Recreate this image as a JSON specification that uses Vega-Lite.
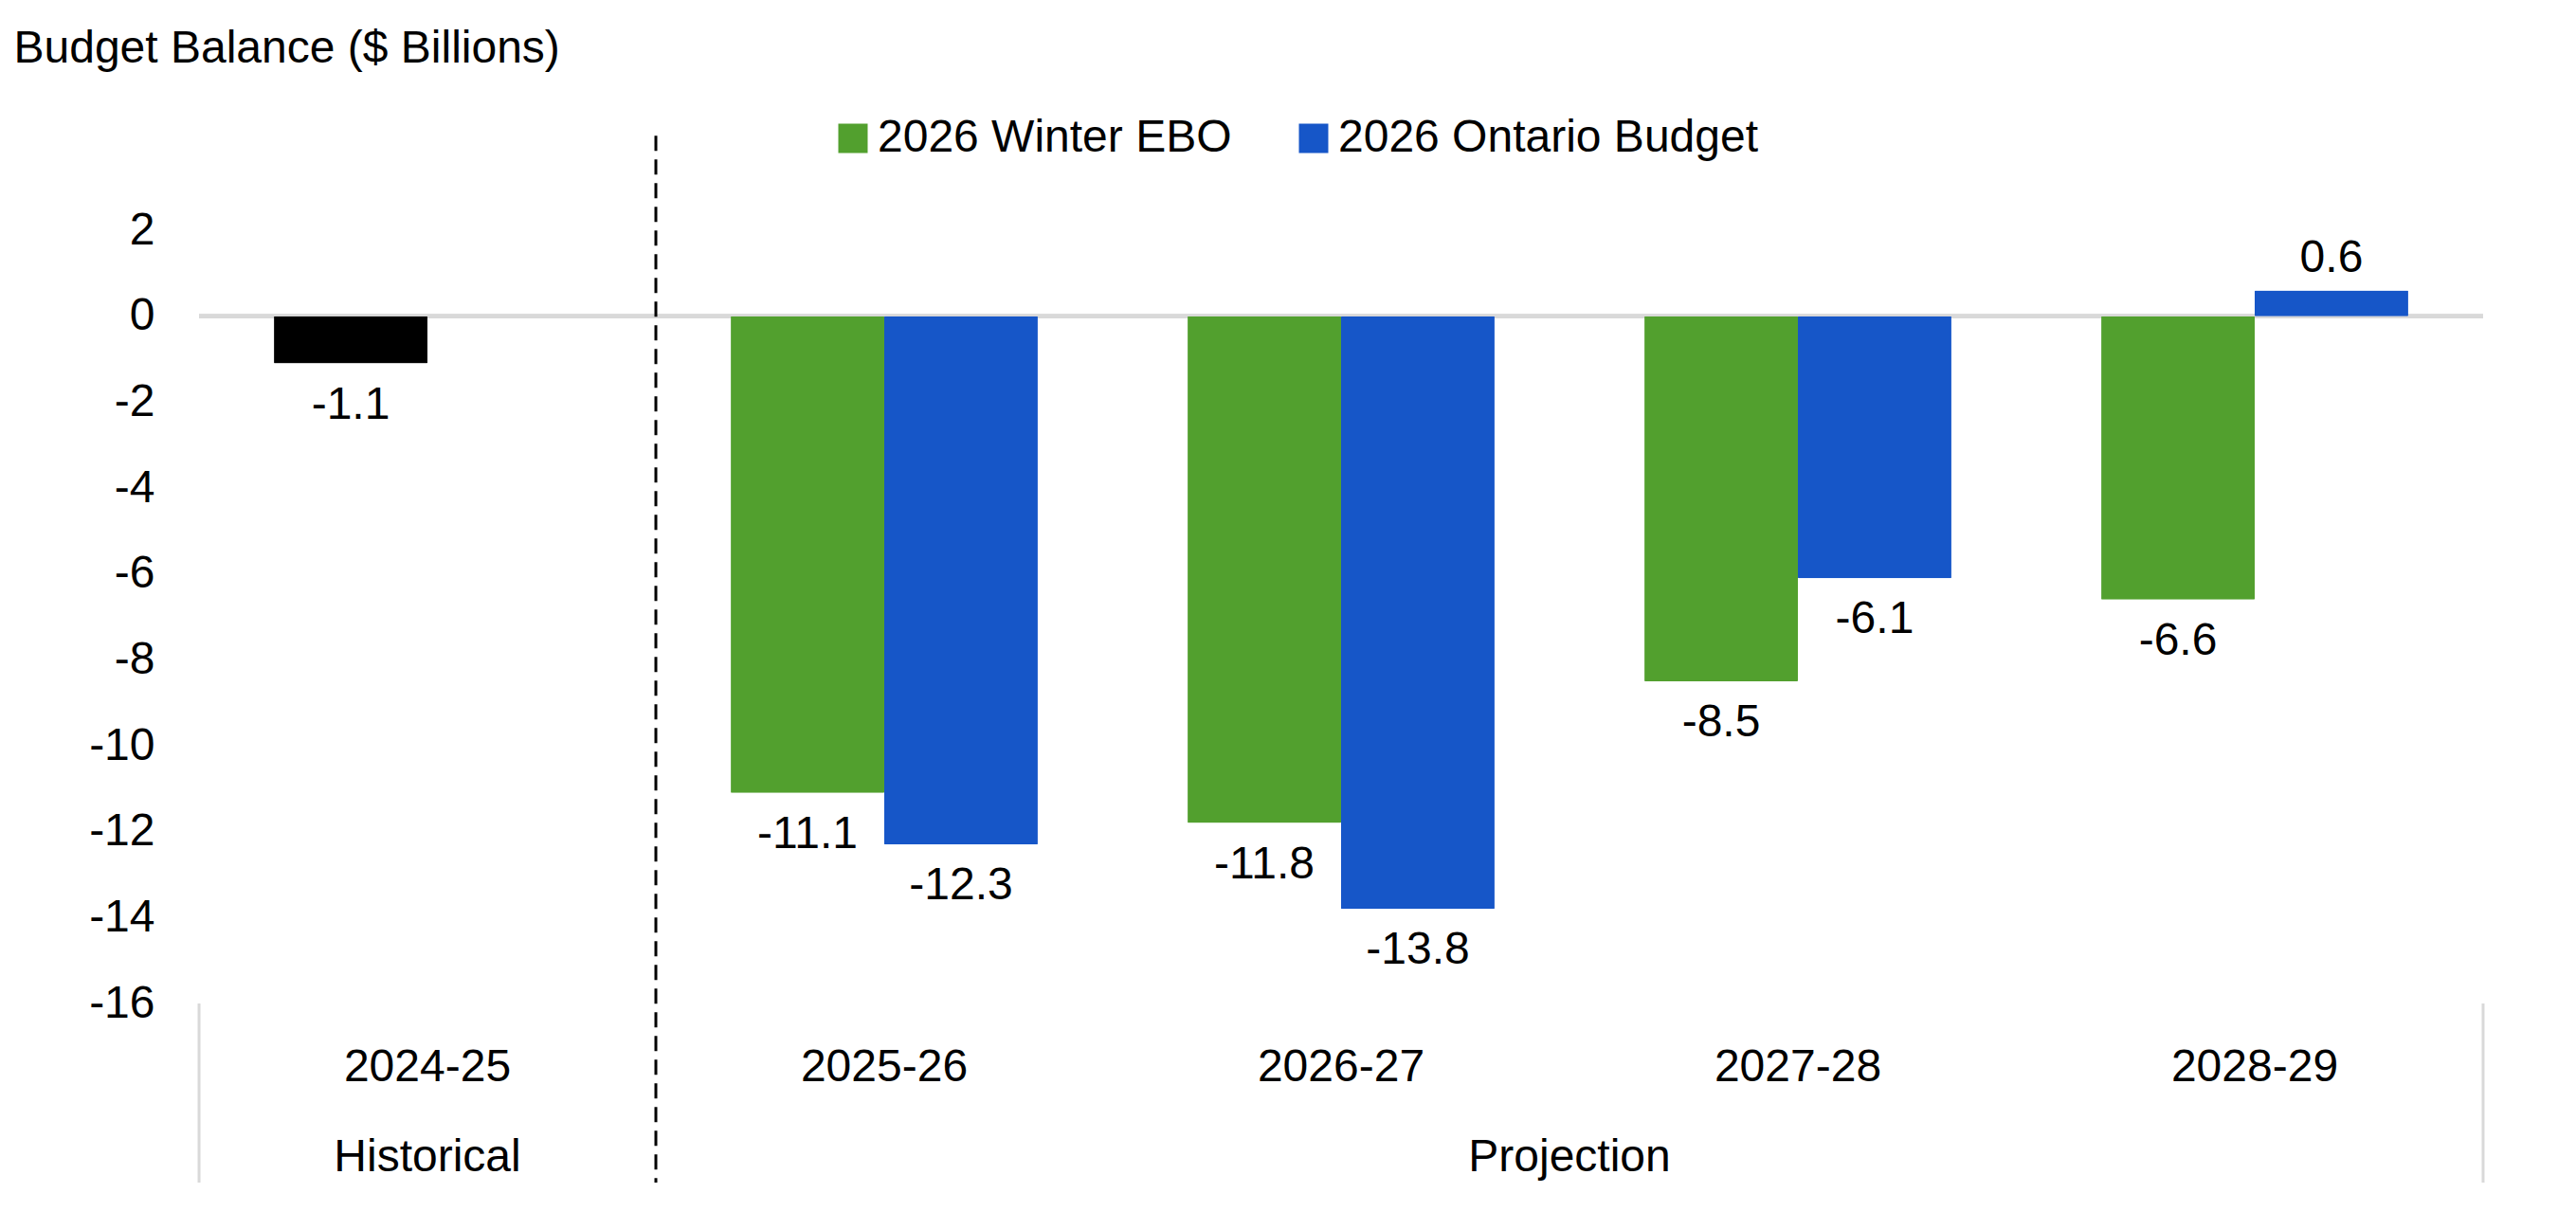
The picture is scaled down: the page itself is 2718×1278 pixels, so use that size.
{
  "$schema": "https://vega.github.io/schema/vega-lite/v6.json",
  "autosize": {"type": "none"},
  "width": 2410,
  "height": 816,
  "padding": {"left": 210, "top": 243, "right": 98, "bottom": 219},
  "background": "white",
  "config": {
    "view": {"stroke": null},
    "font": "Liberation Sans",
    "locale": {"number": {"decimal": ".", "thousands": ",", "grouping": [3], "currency": ["$", ""], "minus": "-"}}
  },
  "datasets": {
    "bars": [
      {"year": "2024-25", "series": "Historical", "slot": "a", "value": -1.1},
      {"year": "2025-26", "series": "2026 Winter EBO", "slot": "a", "value": -11.1},
      {"year": "2025-26", "series": "2026 Ontario Budget", "slot": "b", "value": -12.3},
      {"year": "2026-27", "series": "2026 Winter EBO", "slot": "a", "value": -11.8},
      {"year": "2026-27", "series": "2026 Ontario Budget", "slot": "b", "value": -13.8},
      {"year": "2027-28", "series": "2026 Winter EBO", "slot": "a", "value": -8.5},
      {"year": "2027-28", "series": "2026 Ontario Budget", "slot": "b", "value": -6.1},
      {"year": "2028-29", "series": "2026 Winter EBO", "slot": "a", "value": -6.6},
      {"year": "2028-29", "series": "2026 Ontario Budget", "slot": "b", "value": 0.6}
    ],
    "groups": [
      {"year": "2024-25", "group": "Historical"},
      {"year": "2027-28", "group": "Projection"}
    ]
  },
  "layer": [
    {
      "data": {"name": "bars"},
      "mark": {"type": "rule", "color": "#D9D9D9", "strokeWidth": 4},
      "encoding": {"y": {"datum": 0, "type": "quantitative", "scale": {"domain": [-16, 2], "nice": false, "zero": false}}, "x": {"value": 0}, "x2": {"value": 2410}}
    },
    {
      "data": {"name": "bars"},
      "mark": {"type": "bar", "cornerRadius": 1},
      "encoding": {
        "x": {
          "field": "year", "type": "nominal",
          "scale": {"domain": ["2024-25", "2025-26", "2026-27", "2027-28", "2028-29"], "paddingInner": 0.328, "paddingOuter": 0.164},
          "axis": {"title": null, "domain": false, "ticks": false, "labelAngle": 0, "labelFontSize": 48, "labelColor": "#000000", "labelBaseline": "alphabetic", "labelPadding": 81, "labelFont": "Liberation Sans"}
        },
        "y": {
          "field": "value", "type": "quantitative",
          "scale": {"domain": [-16, 2], "nice": false, "zero": false},
          "axis": {
            "values": [-16, -14, -12, -10, -8, -6, -4, -2, 0, 2],
            "grid": false, "domain": false, "ticks": false,
            "labelFontSize": 48, "labelColor": "#000000", "labelPadding": 47, "labelFont": "Liberation Sans",
            "title": "Budget Balance ($ Billions)", "titleAngle": 0, "titleAlign": "left", "titleBaseline": "alphabetic",
            "titleX": -196, "titleY": -178, "titleFontSize": 48, "titleFontWeight": "normal", "titleColor": "#000000", "titleFont": "Liberation Sans"
          }
        },
        "xOffset": {"field": "slot", "type": "nominal", "scale": {"domain": ["a", "b"], "paddingInner": 0, "paddingOuter": 0}},
        "color": {
          "field": "series", "type": "nominal",
          "scale": {"domain": ["2026 Winter EBO", "2026 Ontario Budget", "Historical"], "range": ["#52A02E", "#1656C8", "#000000"]},
          "legend": {
            "values": ["2026 Winter EBO", "2026 Ontario Budget"],
            "title": null, "orient": "none", "direction": "horizontal",
            "legendX": 666, "legendY": -121, "padding": 0,
            "symbolType": "square", "symbolSize": 961, "symbolStrokeWidth": 0, "symbolOpacity": 1,
            "labelFontSize": 48, "labelColor": "#000000", "labelOffset": 2, "labelFont": "Liberation Sans",
            "columnPadding": 62, "labelLimit": 1000
          }
        }
      }
    },
    {
      "data": {"name": "bars"},
      "transform": [{"filter": "datum.value < 0"}],
      "mark": {"type": "text", "fontSize": 48, "baseline": "alphabetic", "dy": 58, "color": "#000000", "font": "Liberation Sans"},
      "encoding": {
        "x": {"field": "year", "type": "nominal"},
        "y": {"field": "value", "type": "quantitative"},
        "xOffset": {"field": "slot", "type": "nominal"},
        "text": {"field": "value", "type": "quantitative", "format": ".1f"}
      }
    },
    {
      "data": {"name": "bars"},
      "transform": [{"filter": "datum.value >= 0"}],
      "mark": {"type": "text", "fontSize": 48, "baseline": "alphabetic", "dy": -19, "color": "#000000", "font": "Liberation Sans"},
      "encoding": {
        "x": {"field": "year", "type": "nominal"},
        "y": {"field": "value", "type": "quantitative"},
        "xOffset": {"field": "slot", "type": "nominal"},
        "text": {"field": "value", "type": "quantitative", "format": ".1f"}
      }
    },
    {
      "data": {"name": "bars"},
      "transform": [{"filter": "datum.year === '2025-26' && datum.slot === 'a'"}],
      "mark": {"type": "rule", "color": "#000000", "strokeWidth": 3, "strokeDash": [16, 9]},
      "encoding": {
        "x": {"field": "year", "type": "nominal", "bandPosition": -0.244},
        "y": {"datum": 4.2, "type": "quantitative"},
        "y2": {"datum": -20.17}
      }
    },
    {
      "data": {"name": "bars"},
      "transform": [{"filter": "datum.year === '2024-25'"}],
      "mark": {"type": "rule", "color": "#D9D9D9", "strokeWidth": 3},
      "encoding": {
        "x": {"field": "year", "type": "nominal", "bandPosition": -0.244},
        "y": {"datum": -16, "type": "quantitative"},
        "y2": {"datum": -20.17}
      }
    },
    {
      "data": {"name": "bars"},
      "transform": [{"filter": "datum.year === '2028-29' && datum.slot === 'a'"}],
      "mark": {"type": "rule", "color": "#D9D9D9", "strokeWidth": 3},
      "encoding": {
        "x": {"field": "year", "type": "nominal", "bandPosition": 1.244},
        "y": {"datum": -16, "type": "quantitative"},
        "y2": {"datum": -20.17}
      }
    },
    {
      "data": {"name": "groups"},
      "transform": [{"filter": "datum.group === 'Historical'"}],
      "mark": {"type": "text", "fontSize": 48, "baseline": "alphabetic", "color": "#000000", "font": "Liberation Sans"},
      "encoding": {
        "x": {"field": "year", "type": "nominal", "bandPosition": 0.5},
        "y": {"datum": -19.9, "type": "quantitative"},
        "text": {"field": "group", "type": "nominal"}
      }
    },
    {
      "data": {"name": "groups"},
      "transform": [{"filter": "datum.group === 'Projection'"}],
      "mark": {"type": "text", "fontSize": 48, "baseline": "alphabetic", "color": "#000000", "font": "Liberation Sans"},
      "encoding": {
        "x": {"field": "year", "type": "nominal", "bandPosition": -0.244},
        "y": {"datum": -19.9, "type": "quantitative"},
        "text": {"field": "group", "type": "nominal"}
      }
    }
  ]
}
